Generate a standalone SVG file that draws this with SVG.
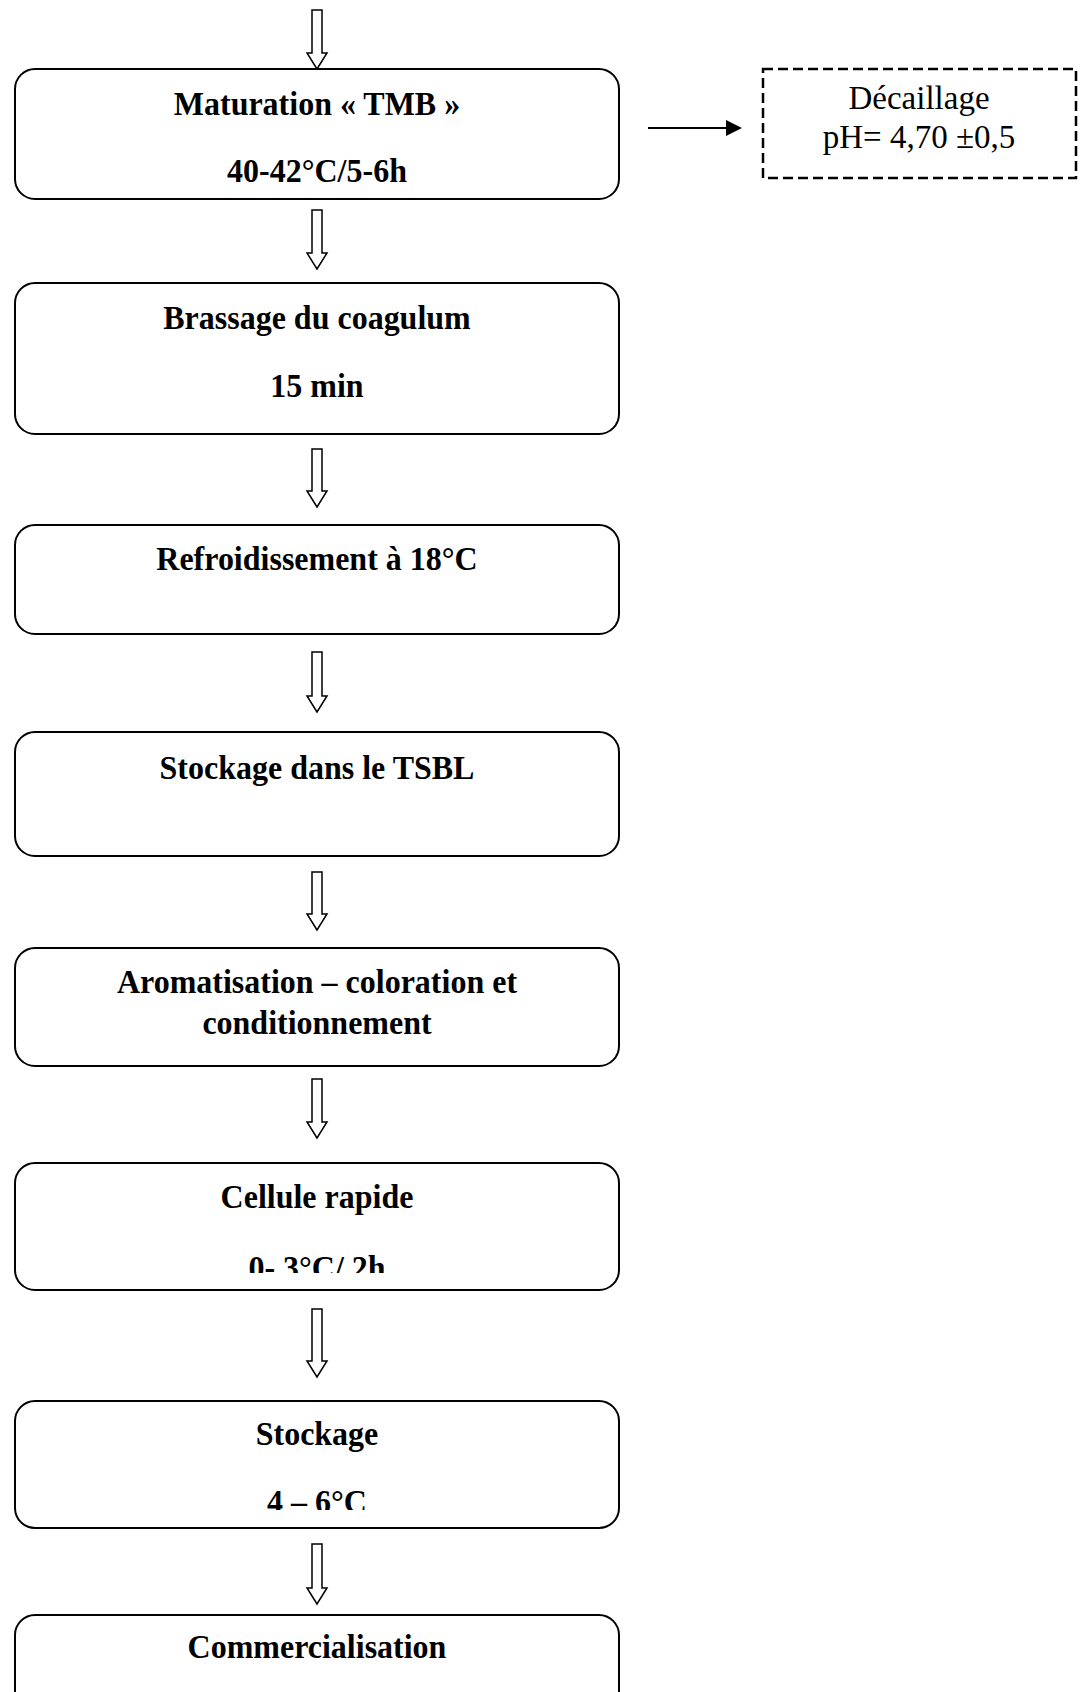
<svg xmlns="http://www.w3.org/2000/svg" width="1087" height="1692" viewBox="0 0 1087 1692">
<style>
.box{fill:#fff;stroke:#000;stroke-width:2}
.dash{fill:#fff;stroke:#000;stroke-width:2.5;stroke-dasharray:10 5}
.b{font-family:"Liberation Serif","Times New Roman",serif;font-weight:bold;font-size:32px;text-anchor:middle;fill:#000}
.r{font-family:"Liberation Serif","Times New Roman",serif;font-size:33px;text-anchor:middle;fill:#000}
.harrow{fill:#fff;stroke:#000;stroke-width:1.5}
.line{stroke:#000;stroke-width:2;fill:none}
</style>
<defs>
<clipPath id="clip6"><rect x="0" y="1150" width="640" height="123"/></clipPath>
<clipPath id="clip7"><rect x="0" y="1395" width="640" height="115"/></clipPath>
</defs>
<rect width="1087" height="1692" fill="#fff"/>
<g id="connectors">
<polygon class="harrow" points="312,10 322,10 322,53 327,53 317,69 307,53 312,53"/>
<polygon class="harrow" points="312,210 322,210 322,253 327,253 317,269 307,253 312,253"/>
<polygon class="harrow" points="312,449 322,449 322,491 327,491 317,507 307,491 312,491"/>
<polygon class="harrow" points="312,652 322,652 322,696 327,696 317,712 307,696 312,696"/>
<polygon class="harrow" points="312,872 322,872 322,914 327,914 317,930 307,914 312,914"/>
<polygon class="harrow" points="312,1079 322,1079 322,1122 327,1122 317,1138 307,1122 312,1122"/>
<polygon class="harrow" points="312,1309 322,1309 322,1361 327,1361 317,1377 307,1361 312,1361"/>
<polygon class="harrow" points="312,1544 322,1544 322,1588 327,1588 317,1604 307,1588 312,1588"/>
<line class="line" x1="648" y1="128" x2="728" y2="128"/>
<polygon points="726,120 742,128 726,136" fill="#000"/>
</g>
<g id="n1">
<rect class="box" x="15" y="69" width="604" height="130" rx="20"/>
<text class="b" transform="translate(317 115) scale(1 1.07)">Maturation « TMB »</text>
<text class="b" transform="translate(317 182) scale(1 1.07)">40-42°C/5-6h</text>
</g>
<g id="n-decaillage">
<rect class="dash" x="763" y="69" width="313" height="109"/>
<text class="r" x="919" y="109">Décaillage</text>
<text class="r" x="919" y="148">pH= 4,70 ±0,5</text>
</g>
<g id="n2">
<rect class="box" x="15" y="283" width="604" height="151" rx="20"/>
<text class="b" transform="translate(317 329) scale(1 1.07)">Brassage du coagulum</text>
<text class="b" transform="translate(317 397) scale(1 1.07)">15 min</text>
</g>
<g id="n3">
<rect class="box" x="15" y="525" width="604" height="109" rx="20"/>
<text class="b" transform="translate(317 570) scale(1 1.07)">Refroidissement à 18°C</text>
</g>
<g id="n4">
<rect class="box" x="15" y="732" width="604" height="124" rx="20"/>
<text class="b" transform="translate(317 779) scale(1 1.07)">Stockage dans le TSBL</text>
</g>
<g id="n5">
<rect class="box" x="15" y="948" width="604" height="118" rx="20"/>
<text class="b" transform="translate(317 993) scale(1 1.07)">Aromatisation – coloration et</text>
<text class="b" transform="translate(317 1034) scale(1 1.07)">conditionnement</text>
</g>
<g id="n6">
<rect class="box" x="15" y="1163" width="604" height="127" rx="20"/>
<text class="b" transform="translate(317 1208) scale(1 1.07)">Cellule rapide</text>
<g clip-path="url(#clip6)"><text class="b" transform="translate(317 1279) scale(1 1.07)">0- 3°C/ 2h</text></g>
</g>
<g id="n7">
<rect class="box" x="15" y="1401" width="604" height="127" rx="20"/>
<text class="b" transform="translate(317 1445) scale(1 1.07)">Stockage</text>
<g clip-path="url(#clip7)"><text class="b" transform="translate(317 1513) scale(1 1.07)">4 – 6°C</text></g>
</g>
<g id="n8">
<rect class="box" x="15" y="1615" width="604" height="100" rx="20"/>
<text class="b" transform="translate(317 1658) scale(1 1.07)">Commercialisation</text>
</g>
</svg>
